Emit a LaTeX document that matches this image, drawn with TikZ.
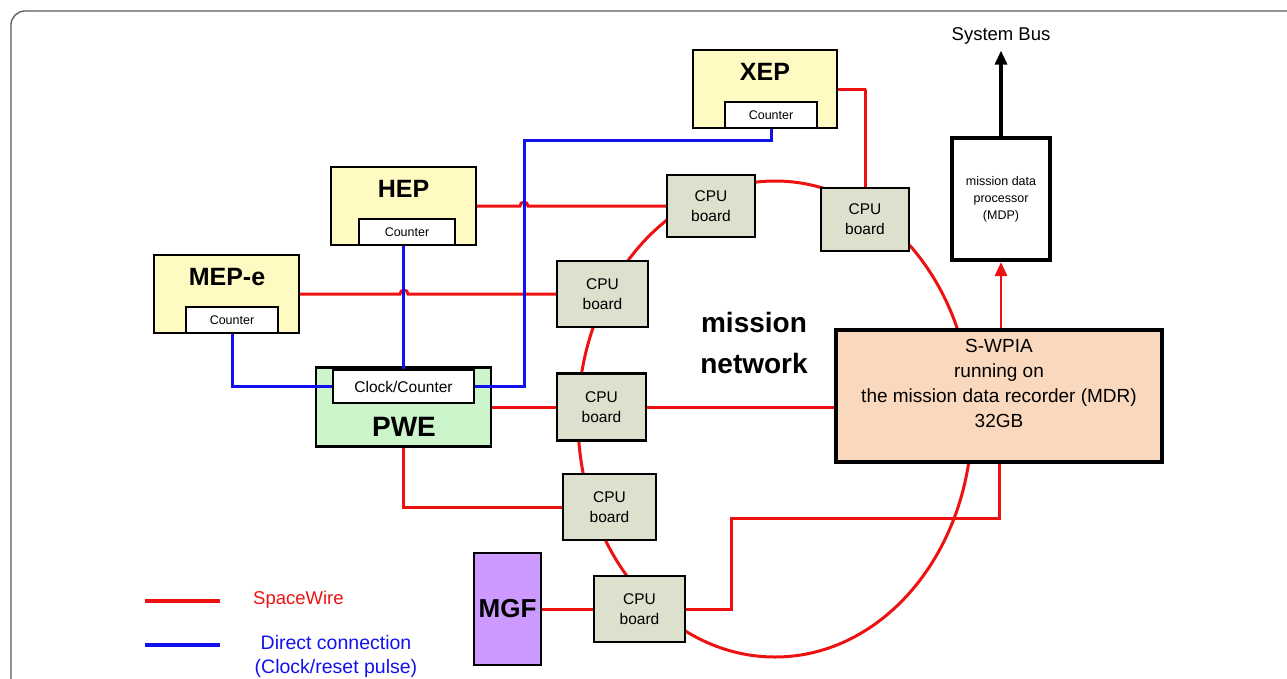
\documentclass[tikz,border=0pt]{standalone}
\usepackage{fontspec}
\setmainfont{Liberation Sans}
\usetikzlibrary{arrows.meta}
\definecolor{sw}{HTML}{EE1111}
\definecolor{dc}{HTML}{1111EE}
\definecolor{yelfill}{HTML}{FEFAC2}
\definecolor{grnfill}{HTML}{CCF5CC}
\definecolor{cpufill}{HTML}{DCE0CC}
\definecolor{mdrfill}{HTML}{FAD8BE}
\definecolor{mgffill}{HTML}{CC99FF}
\definecolor{framec}{HTML}{5A5A5A}
\newcommand{\fs}[1]{\fontsize{#1}{#1}\selectfont}
\begin{document}
\begin{tikzpicture}[x=1pt,y=-1pt,
  box/.style={draw=black, line width=2.2pt, inner sep=0pt},
  instr/.style={box, fill=yelfill},
  ctr/.style={box, fill=white, font=\fs{12.5}},
  cpu/.style={box, fill=cpufill, align=center, font=\fontsize{15.5}{20}\selectfont},
  title/.style={font=\bfseries\fs{25}, inner sep=0pt},
  swire/.style={draw=sw, line width=3pt},
  dconn/.style={draw=dc, line width=3pt},
  thick box/.style={draw=black, line width=4pt, inner sep=0pt, align=center}
]
\useasboundingbox (0,0) rectangle (1287,678);
\draw[framec, line width=1.3pt, rounded corners=14pt] (11,11) rectangle (1320,720);

% ring of the mission network
\draw[swire] (775,419) ellipse [x radius=197, y radius=238];

% instruments
\node[instr, minimum width=144, minimum height=78] (XEP) at (765,89) {};
\node[title] (XEPt) at (765,72) {XEP};
\node[ctr, minimum width=92, minimum height=26] (XEPc) at (771,115) {Counter};

\node[instr, minimum width=145, minimum height=78] (HEP) at (403.5,206) {};
\node[title] (HEPt) at (403.5,189) {HEP};
\node[ctr, minimum width=96, minimum height=26] (HEPc) at (407,232) {Counter};

\node[instr, minimum width=145, minimum height=78] (MEP) at (226.5,294) {};
\node[title] (MEPt) at (227,277) {MEP-e};
\node[ctr, minimum width=92, minimum height=26] (MEPc) at (232,320) {Counter};

\node[box, fill=grnfill, minimum width=175, minimum height=79] (PWE) at (403.5,407) {};
\node[title, font=\bfseries\fs{28}] (PWEt) at (404,427) {PWE};
\node[box, fill=white, minimum width=141, minimum height=33, font=\fs{15.5}] (CC) at (403.5,386.5) {Clock/Counter};

\node[box, fill=mgffill, minimum width=67, minimum height=112, font=\bfseries\fs{26}] (MGF) at (507.5,609) {MGF};

% CPU boards
\node[cpu, minimum width=88, minimum height=62] (C1) at (711,206) {CPU\\board};
\node[cpu, minimum width=91, minimum height=66] (C2) at (602.5,294) {CPU\\board};
\node[cpu, minimum width=89, minimum height=67] (C3) at (601.5,407) {CPU\\board};
\node[cpu, minimum width=93, minimum height=66] (C4) at (609.5,507) {CPU\\board};
\node[cpu, minimum width=91, minimum height=66] (C5) at (639.5,609) {CPU\\board};
\node[cpu, minimum width=88, minimum height=63] (C6) at (865,219.5) {CPU\\board};

% recorder and processor
\node[thick box, fill=mdrfill, minimum width=326, minimum height=132] (MDR) at (999,396) {};
\node[align=center, inner sep=0pt, font=\fontsize{19}{25}\selectfont] (MDRt) at (999,383)
  {S-WPIA\\running on\\the mission data recorder (MDR)\\32GB};
\node[thick box, fill=white, minimum width=98, minimum height=122] (MDP) at (1001,199) {};
\node[align=center, inner sep=0pt, font=\fontsize{12.5}{17}\selectfont] (MDPt) at (1001,199)
  {mission data\\processor\\(MDP)};
\node[font=\fs{18.5}, inner sep=0pt] (SB) at (1001,36) {System Bus};

\node[font=\bfseries\fontsize{28}{41}\selectfont, align=center, inner sep=0pt] (MN) at (754,343) {mission\\network};

% SpaceWire links
\draw[swire] (XEP.east) -- ++(28,0) -| (C6.north);
\coordinate (hop1) at (524,206);
\draw[swire] (HEP.east) -- ([xshift=-4]hop1) arc[start angle=180, end angle=360, radius=4] -- (C1.west);
\coordinate (hop2) at (404,294);
\draw[swire] (MEP.east) -- ([xshift=-4]hop2) arc[start angle=180, end angle=360, radius=4] -- (C2.west);
\draw[swire] (PWE.east) -- (C3.west);
\draw[swire] (PWE.south) |- (C4.west);
\draw[swire] (C3.east) -- (C3.east -| MDR.west);
\draw[swire] (MGF.east) -- (C5.west);
\draw[swire] (C5.east) -- ++(45,0) -- ++(0,-91) -| (MDR.south);
\draw[draw=sw, line width=2.8pt, -{Triangle[length=14pt, width=12pt]}, fill=sw] (MDR.north -| MDP.south) -- (MDP.south);
\draw[line width=3.2pt, -{Triangle[length=14pt, width=12pt]}] (MDP.north) -- ([yshift=-6pt]SB.south);

% direct connections
\draw[dconn] (MEPc.south) |- (CC.west);
\draw[dconn] (HEPc.south -| CC.north) -- (CC.north);
\draw[dconn] (CC.east) -| (524,140) -| (XEPc.south);

% legend
\coordinate (l1a) at (145,601); \coordinate (l1b) at (220,601);
\coordinate (l2a) at (145,645); \coordinate (l2b) at (220,645);
\draw[swire, line width=3.4pt] (l1a) -- (l1b);
\draw[dconn, line width=3.4pt] (l2a) -- (l2b);
\node[anchor=west, text=sw, font=\fs{18.5}, inner sep=0pt] (LSW) at (253,600) {SpaceWire};
\node[text=dc, font=\fs{19.5}, inner sep=0pt] (LDC) at (336,643) {Direct connection};
\node[text=dc, font=\fs{19.5}, inner sep=0pt] (LCR) at (336,668) {(Clock/reset pulse)};
\end{tikzpicture}
\end{document}
